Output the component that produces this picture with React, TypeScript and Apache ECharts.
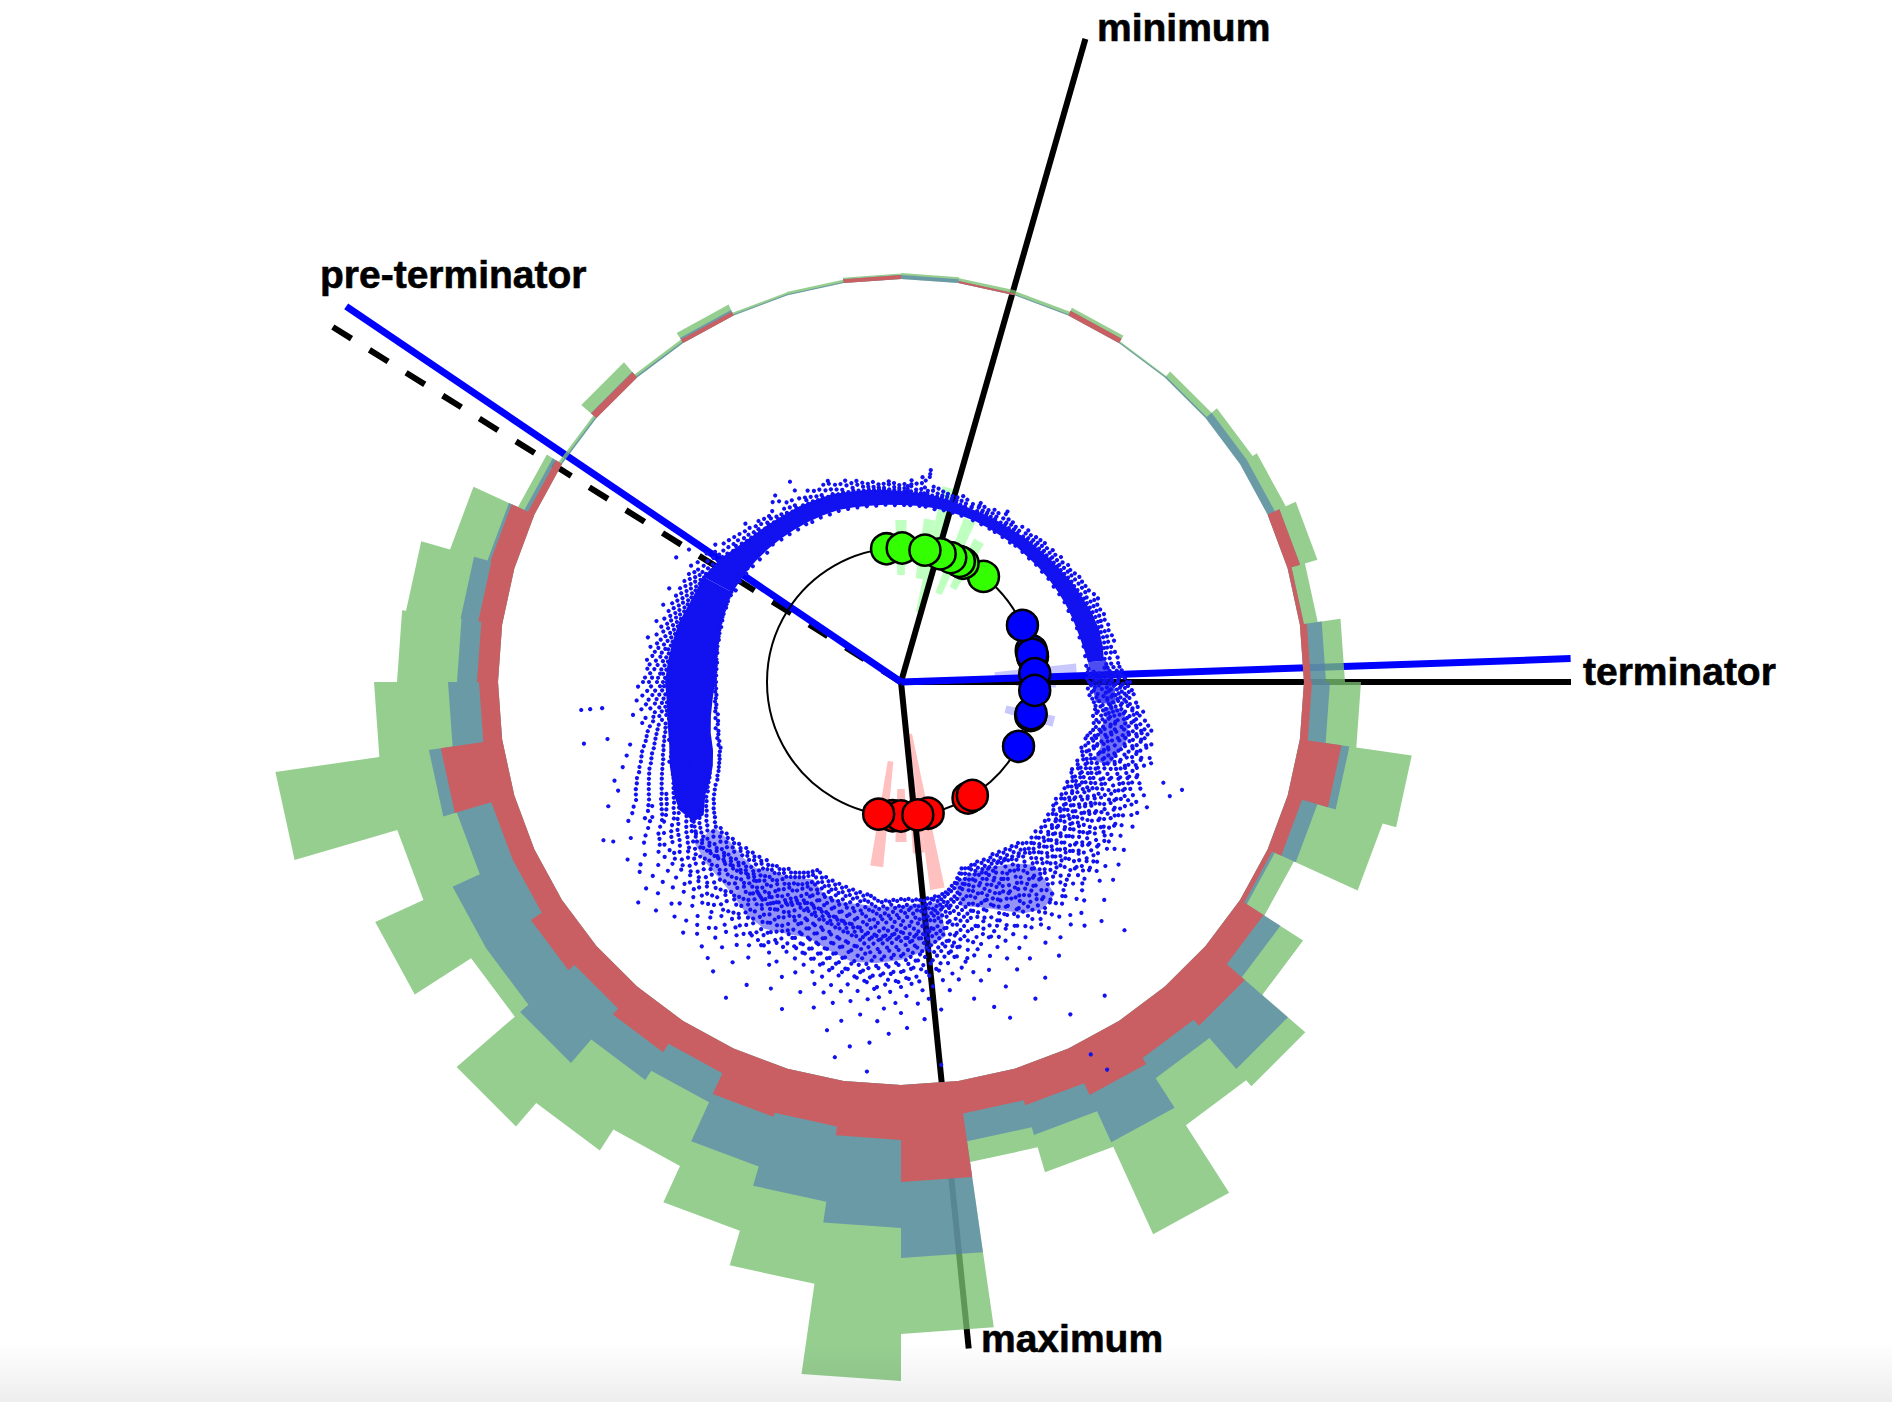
import React, { useEffect, useRef } from "react";
import * as echarts from "echarts";

const BIN_COUNT = 44;
const RING_BASE = 403;
const redHeights = [0,2,0,5,0,0,0,0,13,4,7,8,42,15,5,28,52,44,51,38,33,97,55,46,50,27,37,29,37,24,24,62,19,21,24,25,7,0,7,0,4,0,0,4];
const blueHeights = [4,0,1,0,1,1.5,8,8,0,0,15,18,8,16,3,20,57,24,52,31,28,76,88,76,52,32,33,72,53,66,36,12,31,20,18,3,4,1.5,0.5,1.5,2,1,1,0];
const greenHeights = [2,3,3,3.5,1,6.5,7,12,18,14,19,31,63,68,21,27,23,56,101,39,21,76,153,83,67,70,84,84,18,85,62,155,74,60,55,39,7,2.5,12.5,2.5,6,2,2.5,1.5];

const guideLines = [
  { name: "minimum", angle: 16, length: 669, color: "#000000", dash: "solid", width: 6 },
  { name: "terminator", angle: 90, length: 670, color: "#000000", dash: "solid", width: 6 },
  { name: "maximum", angle: 174.2, length: 670, color: "#000000", dash: "solid", width: 6 },
  { name: "pre-terminator", angle: 302, length: 670, color: "#000000", dash: "dashed", width: 6 },
  { name: "terminator-blue", angle: 88, length: 670, color: "#0000ff", dash: "solid", width: 7 },
  { name: "pre-terminator-blue", angle: 304.1, length: 670, color: "#0000ff", dash: "solid", width: 7 },
];

// angle start, angle end, inner radius, outer radius
const pinkWedges = [[185.5,189.5,80,186],[178,182,107,160],[168,172,53,210],[172,176,96,172]];
const paleGreenWedges = [[358,362,107,162],[12,16,72,200],[8,12,105,165],[21,25,96,176],[27,31,107,161]];
const lavenderWedges = [[84,88,94,176],[88,92,115,155],[102.5,106.5,108,158]];

const RING_RADIUS = 134;
const greenMarkers = [38,27.6,25.8,21.8,17,353.8,0.5,10.3];
const blueMarkers = [118.7,104.5,103.7,76.4,79,78,86.4,93.6,65];
const redMarkers = [150,147.8,183.6,180,168.3,189.6,172.8];

// angle, inner radius, outer radius of the densest parts of the dot cloud
const topBand = [[298,191,224],[305,190,218],[310,189,212],[315,188,208],[320,187,206],[325,186,204],[330,185,203],[335,184,201],[340,183,200],[345,181,197],[350,179,195],[355,178,193],[360,177,191],[365,177,190],[370,177,189],[375,177,188],[380,177,187],[385,177,187],[390,177,188],[395,177,188],[400,178,190],[405,178,191],[410,179,193],[415,180,195],[420,181,198],[425,182,200],[430,183,203],[435,184,205],[440,186,205],[444,188,204]];
const leftBand = [[236,238,250],[240,226,256],[243,214,254],[246,206,250],[250,200,246],[255,197,240],[260,193,237],[265,189,235],[270,186,236],[275,186,234],[280,187,232],[285,188,230],[290,190,226],[295,191,224],[298,191,224]];
const rightBandUpper = [[84,188,206],[88,190,212],[92,192,214],[96,196,216]];
const rightBandLower = [[97,204,222],[100,208,230],[104,204,234],[108,210,228],[112,208,224]];
const lowRightCluster = [[144,226,262],[148,214,268],[152,208,262],[156,204,250],[160,204,240],[165,208,232]];
const bottomCluster = [[170,224,258],[175,222,270],[180,224,278],[185,226,282],[190,226,284],[195,228,278],[200,226,272]];
const lowLeftCluster = [[200,226,272],[204,216,276],[209,224,282],[213,228,280],[218,236,272]];
const farLeftCluster = [[218,236,272],[222,236,268],[227,234,266],[232,236,262]];
const bandList = [topBand,leftBand,rightBandUpper,rightBandLower,lowRightCluster,bottomCluster,lowLeftCluster,farLeftCluster];
const bandOpacity = [1,1,0.75,0.6,0.45,0.45,0.45,0.4];

// scattered dots: angle, then the radii seen along it
const dotRows: [number, number[]][] = [
[299,[192,223,227,232,240,257,189]],[300.5,[224,229,220,236]],[302,[190,222,228,218,250]],[303.5,[219,225,233,193]],[305,[189,218,222,227]],[306.5,[216,221,231,191]],[308,[188,213,219,225]],[309.5,[214,217,223]],[311,[187,211,216,221]],[312.5,[209,213,219]],[314,[186,208,212,217]],[315.5,[207,210,216,222]],[317,[188,206,209,213]],[318.5,[205,211,215]],[320,[186,206,208,213]],[321.5,[204,209,212]],[323,[185,204,207,214]],[324.5,[203,206,221]],[326,[184,204,209,225,218]],[327.5,[202,207,213]],[329,[184,203,206,212]],[331,[183,202,229,219,210]],[332.5,[201,205,208]],[334,[183,201,206,213]],[335.5,[200,204,210]],[337,[182,200,203,209]],[338.5,[199,206,212]],[340,[182,200,205,214,211]],[341.5,[198,203,208]],[343,[181,198,201,207]],[344.5,[197,204,209]],[346,[180,197,200,205]],[347.5,[196,202,206]],[349,[179,195,199,203]],[350.5,[195,198,201]],[352,[178,194,197,202]],[353.5,[194,199,196]],[355,[178,193,195,199]],[356.5,[193,198,201]],[358,[177,192,195,199]],[359.5,[192,194,197]],
[1,[177,191,194,198]],[2,[191,196,193]],[3,[177,191,196,202,198]],[4.5,[190,193,199]],[6,[177,190,194,200,206]],[7,[190,196,203]],[8,[177,190,193,207,214,210]],[9.5,[189,194,198]],[11,[176,189,192,197]],[12.5,[189,191,195]],[14,[177,188,191,194]],[15.5,[188,193,190]],[17,[177,188,190,193]],[18.5,[187,191,196]],[20,[177,187,190,194]],[22,[188,192,189]],[24,[177,187,191,196,193]],[25.5,[188,190,194]],[27,[177,188,190,193]],[28.5,[188,192,196]],[30,[177,188,191,195]],[32,[177,188,193,201,198]],[33.5,[189,191,195]],[35,[177,188,192,195]],[36.5,[189,193,190]],[38,[177,189,192,197]],[40,[178,190,194,198]],[41.5,[190,192,196]],[43,[178,191,194,198]],[44.5,[192,195,199]],[46,[178,192,196,200]],[47.5,[192,194,198]],[49,[179,193,197,201]],[50.5,[193,196,200]],[52,[179,194,198,203]],[53.5,[195,197,201]],[55,[180,195,199,204]],[56.5,[196,200,203]],[58,[180,197,201,205]],[59.5,[198,202,207]],[61,[181,198,203,207]],[62.5,[199,204,208]],[64,[182,200,205,209]],[65.5,[201,204,212]],[67,[182,202,206,214,210]],[68.5,[203,207,211]],[70,[183,204,208,212]],[71.5,[205,209,214]],[73,[184,206,209,213]],[74.5,[205,208,215]],[76,[184,206,210,214]],[77.5,[207,211,216]],[79,[186,207,211,217]],[80.5,[206,213,209]],[82,[186,207,212,216]],[83.5,[205,210,218]],[85,[186,206,211,218]],
[86,[188,207,213,204,219]],[87,[187,216,209,221,193]],[87.5,[198,212,205,218]],[88,[189,215,206,219,201]],[88.5,[192,214,222,208]],[89,[186,199,218,224,210]],[89.5,[195,204,217,211]],[90,[188,217,226,229,203]],[90.5,[191,209,215,222]],[91,[190,198,220,213,227]],[91.5,[194,206,219,224]],[92,[187,216,210,231,201]],[92.5,[193,208,221,228]],[93,[191,218,205,224,233]],[93.5,[197,212,226,215]],[94,[189,220,211,229,203]],[94.5,[196,207,224,217]],[95,[192,218,207,226,236]],[95.5,[199,213,230,222]],[96,[194,221,209,228,238]],[96.5,[203,216,233,211]],[97,[201,212,222,233,244,196]],[97.5,[207,226,218,238]],[98,[196,214,225,204,235,241]],[98.5,[199,221,231,210]],[99,[198,216,229,207,238,247]],[99.5,[212,226,236,203]],[100,[195,234,220,211,243,251]],[100.5,[205,218,239,228]],[101,[199,218,232,208,240,248,255]],[101.5,[202,225,245,214]],[102,[197,228,214,237,246,252]],[102.5,[207,233,219,241]],[103,[200,221,234,209,242,250]],[103.5,[216,228,247,204]],[104,[198,217,231,206,239,247,258]],[104.5,[211,224,236,253]],[105,[196,226,213,244,204,254]],[105.5,[219,232,240,201]],[106,[194,215,233,203,241,249]],[106.5,[209,223,246,199]],[107,[193,212,230,201,238,246,260]],[107.5,[217,228,252,206]],[108,[197,218,235,206,243,252,263]],[108.5,[203,225,238,214]],[109,[195,227,214,204,245,257]],[109.5,[211,233,220,249]],[110,[192,224,210,233,200,242,251]],[110.5,[198,217,239,228]],[111,[194,229,216,203,240,248,281,301]],[111.5,[208,236,222,254]],[112,[196,219,232,205,243,254]],[112.5,[212,227,247,201]],[113,[198,221,235,207,246,259,292]],[113.5,[203,215,239,252]],[114,[193,226,213,202,238,249,262]],[114.5,[218,231,244,208]],[115,[195,216,230,204,241,253,268]],[115.5,[211,224,248,199]],[116,[197,222,236,208,247,258]],[116.5,[202,228,243,215]],[117,[192,225,212,201,240,251,264,276]],[117.5,[206,219,234,256]],[118,[193,228,215,203,238,249,261]],[118.5,[210,223,245,198]],[119,[196,219,233,207,244,256,270]],[119.5,[201,227,239,214]],[120,[198,217,231,206,242,253,266]],[120.5,[211,224,248,203]],[121,[194,226,214,205,237,248,259]],[121.5,[200,219,233,255]],[122,[197,220,229,208,240,252,273]],[122.5,[213,225,245,203]],[123,[195,227,216,204,239,250,263]],[123.5,[209,221,234,257]],[124,[199,222,234,209,245,257]],[124.5,[204,228,241,216]],[125,[196,218,230,206,241,254,268]],[125.5,[212,225,249,201]],[126,[198,223,236,210,247,260]],[126.5,[205,217,232,252]],[127,[194,227,215,204,243,255,279]],[127.5,[210,222,238,262]],[128,[197,219,232,207,246,258,271]],[128.5,[203,226,241,214]],[129,[196,229,217,205,240,251,265]],[129.5,[211,222,236,256]],[130,[199,221,233,209,243,256,284]],[130.5,[204,227,248,215]],[131,[201,224,236,211,248,261]],[131.5,[207,219,242,254]],[132,[198,220,231,208,244,259,275]],[132.5,[213,228,238,266]],[133,[202,226,238,213,250,263,290]],[133.5,[208,220,245,256]],[134,[200,222,235,210,247,258,272]],[134.5,[216,229,241,265]],[135,[204,227,215,239,252,266,281]],[135.5,[210,222,234,258]],[136,[202,224,237,212,249,262]],[136.5,[218,231,244,255]],[137,[205,229,216,241,255,269,298]],[137.5,[211,223,236,262]],[138,[201,226,214,240,253,271,334]],[138.5,[208,220,233,247]],[139,[206,231,218,243,256,276]],[139.5,[213,225,238,265]],[140,[203,228,215,242,258,285,312]],[140.5,[209,221,235,251]],[141,[207,232,219,245,261,279]],[141.5,[213,226,240,256]],[142,[204,230,216,247,264,293]],[142.5,[210,222,236,270]],[143,[202,226,214,239,252,268,305]],[143.5,[208,219,233,245]],[144,[199,224,211,237,250,274,288]],[144.5,[206,229,241,260]],[145,[201,228,213,241,254,270,296]],[145.5,[208,218,235,264]],[146,[198,222,210,236,251,266,283]],[146.5,[204,229,244,258]],[147,[200,225,212,243,259,277,374,235]],[147.5,[207,218,252,268]],[148,[197,221,209,238,256,272,301,246]],[148.5,[203,214,229,262]],[149,[199,220,208,234,249,268,287,241]],[149.5,[205,226,255,275]],[150,[196,218,206,232,246,263,280,316]],[150.5,[202,212,238,258]],[151,[198,219,207,235,253,271,298,244]],[151.5,[204,224,249,266]],[152,[195,216,205,230,244,260,278,439]],[152.5,[201,222,236,255]],[153,[197,221,208,237,255,274,373,418,243]],[153.5,[203,213,228,262]],[154,[199,224,210,241,258,284,329,233]],[154.5,[205,217,248,270]],[155,[196,219,206,233,248,269,305,226]],[155.5,[202,212,240,256]],[156,[198,222,209,238,254,276,291,231]],[156.5,[204,215,245,265]],[157,[195,220,207,235,251,268,344,227]],[157.5,[201,213,242,258]],[158,[197,223,208,240,257,279,310,230]],[158.5,[203,216,234,262]],[159,[196,218,206,234,252,273,296,226]],[159.5,[200,212,244,266]],[160,[198,225,210,242,259,282,235]],[160.5,[204,217,250,270]],[161,[197,221,209,236,253,270,322,228]],[161.5,[202,214,243,260]],[162,[196,219,207,233,247,265,288,353,225]],[162.5,[201,212,240,256]],[163,[200,224,211,239,255,274,301,232]],[163.5,[206,216,246,266]],[164,[204,226,214,241,257,278,338,234]],[164.5,[209,220,248,270]],[165,[208,229,218,243,258,283,309,236]],[165.5,[213,224,252,267]],[166,[210,232,221,246,262,276,299,239]],[166.5,[215,226,255,284]],[167,[213,235,223,249,264,287,325,243]],[167.5,[217,229,257,271]],[168,[215,236,225,248,259,271,292,231]],[168.5,[219,228,244,266,280]],[169,[216,234,224,245,257,269,280,303,239]],[169.5,[221,229,250,263,274]],[170,[218,237,226,250,263,275,296,231]],[170.5,[222,243,256,268,285]],[171,[217,239,227,252,265,278,312,234]],[171.5,[220,231,247,259,272]],[172,[219,241,229,254,268,284,301,236]],[172.5,[223,233,249,262,276,291]],[173,[218,240,228,256,272,289,330,248]],[173.5,[224,236,251,265,280]],[174,[220,243,231,258,270,283,385,306,250]],[174.5,[226,237,254,267,295]],[175,[219,245,230,262,276,291,318,253]],[175.5,[225,238,257,270,284]],[176,[218,242,229,257,273,288,309,338,250]],[176.5,[224,236,253,266,279,300]],[177,[219,247,232,264,279,295,322,255]],[177.5,[226,240,259,271,286]],[178,[217,244,228,260,275,287,302,252]],[178.5,[223,235,256,268,282,297]],[179,[218,246,231,263,278,296,314,346,256]],[179.5,[225,239,251,272,289]],[180,[217,243,229,259,274,290,305,331,250]],[180.5,[224,236,255,268,283,300]],[181,[219,248,233,265,281,299,321,257]],[181.5,[226,240,252,273,290]],[182,[218,245,230,261,276,292,310,352,253]],[182.5,[223,237,256,269,285,298]],[183,[220,249,234,266,283,303,327,258]],[183.5,[227,241,254,275,292]],[184,[219,247,232,262,278,294,316,340,255]],[184.5,[225,238,258,271,287,306]],[185,[221,250,235,268,285,308,391,362,259]],[185.5,[228,242,255,276,295]],[186,[220,246,233,263,280,297,319,254]],[186.5,[226,239,257,272,288,302]],[187,[218,248,231,267,284,301,335,259]],[187.5,[224,240,253,274,291]],[188,[216,245,230,264,279,293,312,368,255]],[188.5,[222,237,258,270,286,299]],[189,[215,243,228,261,277,298,323,252]],[189.5,[221,235,249,268,283]],[190,[217,249,232,268,286,307,381,344,258]],[190.5,[223,240,254,273,292]],[191,[214,242,227,258,275,292,315,250]],[191.5,[220,234,247,266,281,296]],[192,[216,247,231,265,282,300,328,356,256]],[192.5,[222,238,252,271,287]],[193,[213,240,226,256,272,289,311,248]],[193.5,[219,232,246,264,279,294]],[194,[215,246,229,263,280,297,320,254]],[194.5,[221,237,250,270,285]],[195,[212,238,225,254,270,286,305,337,246]],[195.5,[218,231,244,262,277,292]],[196,[214,244,228,260,277,294,314,252]],[196.5,[220,235,249,267,283]],[197,[211,237,223,252,268,284,303,245]],[197.5,[217,229,243,260,275,290]],[198,[213,242,227,258,274,291,326,250]],[198.5,[219,233,247,265,281]],[199,[210,236,222,251,266,282,299,243]],[199.5,[216,228,241,258,273,288]],[200,[212,241,226,257,272,288,309,348,249]],[200.5,[218,233,246,263,280]],[201,[209,234,221,249,264,280,296,242]],[201.5,[215,227,240,256,271,286]],[202,[211,239,224,255,270,285,318,247]],[202.5,[217,231,245,261,277]],[203,[207,233,220,248,263,278,293,333,240]],[203.5,[213,226,241,255,270,285]],[204,[206,232,219,247,261,276,290,306,239]],[204.5,[212,225,244,258,273]],[205,[209,236,222,252,267,283,312,244]],[205.5,[215,229,242,259,276,289]],[206,[212,240,225,256,271,287,301,248]],[206.5,[218,233,246,263,279]],[207,[214,243,227,258,273,292,340,250]],[207.5,[220,235,249,265,282,297]],[208,[216,241,228,254,269,284,298,247]],[208.5,[222,234,259,274,288]],[209,[218,245,231,260,275,295,315,361,252]],[209.5,[224,238,253,267,284]],[210,[220,247,233,262,277,289,304,255]],[210.5,[226,241,257,270,294]],[211,[218,244,230,259,274,293,327,251]],[211.5,[224,237,252,266,283]],[212,[221,249,234,263,279,297,310,256]],[212.5,[227,242,258,272,288]],[213,[223,250,236,265,281,302,345,257]],[213.5,[229,243,256,273,292]],[214,[222,248,235,262,278,296,320,255]],[214.5,[228,241,254,270,286]],[215,[224,251,237,266,283,305,337,258]],[215.5,[230,244,260,275,291]],[216,[226,253,239,268,285,300,316,246]],[216.5,[232,247,261,277]],[217,[223,252,236,269,287,308,331,244]],[217.5,[229,242,258,274,295]],[218,[227,255,240,271,289,312,248]],[218.5,[233,246,263,280]],[219,[225,254,238,270,286,303,324,246]],[219.5,[231,244,261,276,298]],[220,[228,256,241,273,291,317,249]],[220.5,[234,247,265,283]],[221,[226,258,240,275,294,310,332,250]],[221.5,[232,245,266,285]],[222,[229,259,243,277,297,321,251]],[222.5,[235,249,268,287]],[223,[227,257,242,274,292,306,250]],[223.5,[233,247,264,282]],[224,[231,261,245,279,299,326,253]],[224.5,[238,252,270,288]],[225,[229,260,244,276,293,313,251]],[225.5,[236,248,267,284]],[226,[232,263,246,281,302,319,254]],[226.5,[240,253,272,291]],[227,[230,262,245,278,296,335,255]],[227.5,[237,250,268,286]],[228,[233,264,248,283,307,256]],[228.5,[241,255,274]],[229,[231,266,247,280,298,322,257]],[229.5,[238,252,272,289]],[230,[234,268,250,285,311,343,258]],[230.5,[243,260,276]],[231,[232,265,249,282,300,328,256]],[231.5,[240,254,272,292]],[232,[235,269,251,287,315,259]],[232.5,[244,262,279]],[233,[233,267,250,284,304,257]],[233.5,[241,255,275,294]],[234,[230,264,248,286,323,254]],[234.5,[239,257,272]],[235,[228,262,246,279,296,318,252]],[235.5,[236,254,270,287]],[236,[226,259,243,277,291,309,250]],[236.5,[233,251,268]],[237,[223,256,240,274,288,326,247]],[237.5,[231,248,264,281]],[238,[221,253,238,270,286,303,245]],[238.5,[228,246,262]],[239,[218,250,234,265,281,298,241]],[239.5,[226,243,258,275]],[240,[215,247,232,262,276,292,312,239]],[240.5,[222,240,255,270]],[241,[212,244,229,260,273,287,329,236]],[241.5,[220,237,252,267,283]],[242,[208,241,226,257,271,290,337,233]],[242.5,[217,234,249,264]],[243,[206,239,224,255,269,284,306]],[243.5,[214,231,247,262,278]],[244,[203,237,222,253,267,281,299]],[244.5,[212,228,245,260]],[245,[201,234,218,251,264,278,295]],[246,[199,232,216,249,262,276,290]],[247,[197,230,214,247,260,274,288,318]],[248,[196,228,212,246,258,272,286]],[249,[194,226,210,244,256,270,283,303]],[250,[192,224,209,243,254,268,281]],[251,[193,227,211,245,252,266,277,303]],[252,[191,225,208,242,250,263,275]],[253,[192,223,206,240,249,261,272,291]],[254,[190,221,205,238,247,259,270]],[255,[189,220,204,237,246,256,268,284]],[256,[191,222,207,239,244,254,265]],[257,[188,219,203,236,243,252,262,278]],[258,[187,218,202,234,241,250,260]],[259,[189,220,204,236,240,248,258,299,323]],[260,[186,216,200,233,239,246,255]],[261,[188,235,242,251,262]],[262,[187,237,244,250,258]],[263,[186,236,241,248,270]],[264,[187,237,243,252,261]],[265,[186,235,240,247,256,300,321,312]],[266,[185,238,245,253,265]],[267,[186,236,242,249,259]],[268,[185,239,246,254]],[269,[186,237,241,250,263]],[270,[185,238,244,252,258]],[271,[186,236,243,249,256]],[272,[185,238,241,251]],[273,[186,235,240,247,254]],[274,[185,237,244,252]],[275,[186,234,239,246,255]],[276,[185,236,242,250]],[277,[186,234,241,248]],[278,[187,235,238,245,253]],[279,[186,233,240,247]],[280,[187,232,237,244,257]],[281,[187,234,240,249]],[282,[188,231,236,243]],[283,[187,233,239,246]],[284,[188,230,235,241,252]],[285,[188,232,238,245]],[286,[189,229,234,240]],[287,[188,231,236,243]],[288,[190,228,233,239,250]],[289,[189,229,235,242]],[290,[190,227,232,238]],[291,[190,228,234,241]],[292,[191,226,231,250,237]],[293,[190,227,233,240]],[294,[191,225,230,236]],[295,[191,226,232,239]],[296,[192,224,229,235]],[297,[191,225,231,238]],[298,[192,223,228,234]],
];

const labels = [
  { text: "minimum", x: 1097, y: 27 },
  { text: "pre-terminator", x: 320, y: 274 },
  { text: "terminator", x: 1583, y: 671 },
  { text: "maximum", x: 981, y: 1338 },
];

const COLORS = { green: "rgba(120,192,113,0.78)", teal: "rgba(85,126,180,0.65)", red: "#c95f62" };
const stackLayers = [
  { color: COLORS.green, parts: [redHeights, blueHeights, greenHeights] },
  { color: COLORS.teal, parts: [redHeights, blueHeights] },
  { color: COLORS.red, parts: [redHeights] },
];

export default function App() {
  const ref = useRef<HTMLDivElement>(null);
  useEffect(() => {
    const chart = echarts.init(ref.current!, undefined, { renderer: "svg" });
    const step = 360 / BIN_COUNT;
    const wedge = (api: any, a0: number, a1: number, r0: number, r1: number, fill: string) => ({
      type: "polygon",
      shape: { points: [api.coord([r0, a0]), api.coord([r1, a0]), api.coord([r1, a1]), api.coord([r0, a1])] },
      style: { fill },
    });
    const wedgeSeries = (rows: number[][], fill: string) => ({
      type: "custom", coordinateSystem: "polar", silent: true, z: 1,
      data: rows,
      renderItem: (_: any, api: any) => wedge(api, api.value(0), api.value(1), api.value(2), api.value(3), fill),
    });
    const markerSeries = (angles: number[], color: string, z: number) => ({
      type: "scatter", coordinateSystem: "polar", silent: true, z, symbolSize: 31,
      itemStyle: { color, borderColor: "#000000", borderWidth: 2.5, opacity: 1 },
      data: angles.map((a) => [RING_RADIUS, a]),
    });
    chart.setOption({
      animation: false,
      backgroundColor: "#ffffff",
      polar: { center: [901, 682], radius: 800 },
      angleAxis: { type: "value", min: 0, max: 360, startAngle: 90, clockwise: true, show: false },
      radiusAxis: { type: "value", min: 0, max: 800, show: false },
      graphic: [
        ...labels.map((l) => ({
          type: "text", x: l.x, y: l.y, z: 50,
          style: { text: l.text, fill: "#000000", stroke: "#000000", lineWidth: 0.6, font: 'bold 39px "Liberation Sans", Arial, sans-serif', textAlign: "left", textVerticalAlign: "middle" },
        })),
        {
          type: "rect", z: 60, silent: true, shape: { x: 0, y: 1342, width: 1892, height: 60 },
          style: { fill: new echarts.graphic.LinearGradient(0, 0, 0, 1, [{ offset: 0, color: "rgba(0,0,0,0)" }, { offset: 1, color: "rgba(0,0,0,0.07)" }]) },
        },
      ],
      series: [
        wedgeSeries(pinkWedges, "#ffc0c0"),
        wedgeSeries(paleGreenWedges, "#bfffbf"),
        wedgeSeries(lavenderWedges, "#c8c8ff"),
        ...guideLines.map((g, i) => ({
          type: "line", coordinateSystem: "polar", silent: true, z: 2 + i * 0.01, symbol: "none", clip: false,
          lineStyle: { color: g.color, width: g.width, type: g.dash === "dashed" ? [22, 21.2] : "solid", cap: "butt" },
          data: [[0, g.angle], [g.length, g.angle]],
        })),
        {
          type: "custom", coordinateSystem: "polar", silent: true, z: 3,
          data: stackLayers.map((_, i) => [i, 0]),
          renderItem: (params: any, api: any) => {
            const layer = stackLayers[params.dataIndex];
            const outer: number[][] = [];
            const inner: number[][] = [];
            for (let i = 0; i < BIN_COUNT; i++) {
              const top = RING_BASE + layer.parts.reduce((sum, p) => sum + p[i], 0);
              outer.push(api.coord([top, i * step]), api.coord([top, (i + 1) * step]));
              inner.push(api.coord([RING_BASE, i * step]));
            }
            inner.push(api.coord([RING_BASE, 0]));
            return { type: "polygon", shape: { points: [...outer, ...inner.reverse()] }, style: { fill: layer.color } };
          },
        },
        {
          type: "custom", coordinateSystem: "polar", silent: true, z: 4,
          data: bandList.map((_, i) => [i, 0]),
          renderItem: (params: any, api: any) => {
            const i = params.dataIndex;
            const band = bandList[i];
            const points = [...band.map((b) => api.coord([b[1], b[0] % 360])), ...[...band].reverse().map((b) => api.coord([b[2], b[0] % 360]))];
            return { type: "polygon", shape: { points }, style: { fill: "#1212f0", opacity: bandOpacity[i] } };
          },
        },
        {
          type: "scatter", coordinateSystem: "polar", silent: true, z: 5, symbolSize: 4.2,
          itemStyle: { color: "#1212f0", opacity: 1 },
          data: dotRows.flatMap(([a, rs]) => rs.map((r) => [r, a])),
        },
        {
          type: "custom", coordinateSystem: "polar", silent: true, z: 6,
          data: [[RING_RADIUS, 0]],
          renderItem: (_: any, api: any) => {
            const c = api.coord([0, 0]);
            const p = api.coord([api.value(0), 0]);
            return { type: "circle", shape: { cx: c[0], cy: c[1], r: Math.hypot(p[0] - c[0], p[1] - c[1]) }, style: { fill: "none", stroke: "#000000", lineWidth: 2 } };
          },
        },
        markerSeries(greenMarkers, "#33ff00", 7),
        markerSeries(blueMarkers, "#0000ff", 7.1),
        markerSeries(redMarkers, "#ff0000", 7.2),
      ],
    });
    return () => chart.dispose();
  }, []);
  return <div ref={ref} style={{ position: "absolute", left: 0, top: 0, width: 1892, height: 1402 }} />;
}
